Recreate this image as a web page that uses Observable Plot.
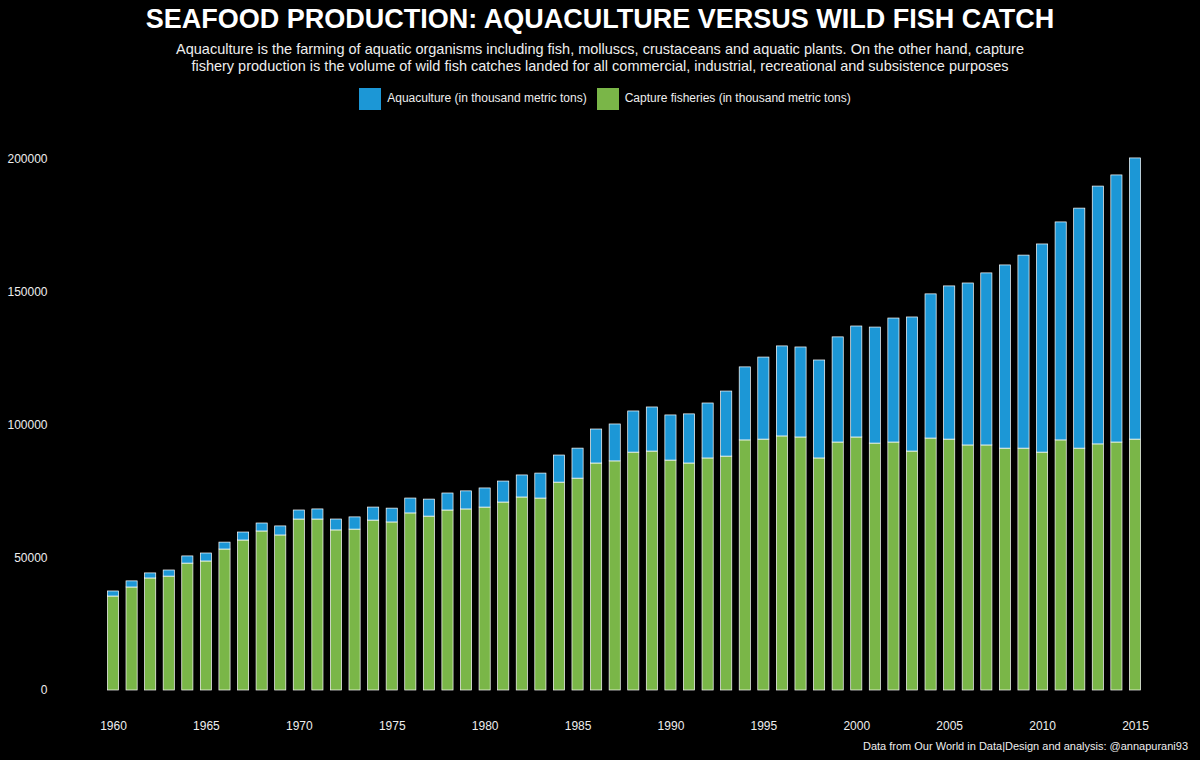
<!DOCTYPE html>
<html><head><meta charset="utf-8">
<script src="https://cdn.jsdelivr.net/npm/d3@7"></script>
<script src="https://cdn.jsdelivr.net/npm/@observablehq/plot@0.6"></script>
<style>
body{margin:0;background:#000;font-family:"Liberation Sans",Arial,sans-serif;color:#fff}
#wrap{position:relative;width:1200px;height:760px;background:#000}
h1{margin:0;position:absolute;top:4px;width:100%;text-align:center;font-size:27px;font-weight:bold}
#sub{position:absolute;top:41px;width:100%;text-align:center;font-size:14.5px;line-height:17px;color:#eee}
#legend{position:absolute;top:88px;width:100%;text-align:center;font-size:12px;color:#eee}
#legend span.k{display:inline-block;width:22px;height:22px;vertical-align:middle;margin:0 6px 0 10px}
#chart{position:absolute;top:130px;left:0}
#foot{position:absolute;top:740px;right:12px;font-size:11px;color:#eee}
</style></head>
<body><div id="wrap">
<h1>SEAFOOD PRODUCTION: AQUACULTURE VERSUS WILD FISH CATCH</h1>
<div id="sub">Aquaculture is the farming of aquatic organisms including fish, molluscs, crustaceans and aquatic plants. On the other hand, capture<br>fishery production is the volume of wild fish catches landed for all commercial, industrial, recreational and subsistence purposes</div>
<div id="legend"><span class="k" style="background:#1c97d6"></span>Aquaculture (in thousand metric tons)<span class="k" style="background:#7ab648;margin-left:10px"></span>Capture fisheries (in thousand metric tons)</div>
<div id="chart"></div>
<div id="foot">Data from Our World in Data|Design and analysis: @annapurani93</div>
</div>
<script>
const years = d3.range(1960, 2016);
// thousand metric tons (x1000 in chart units)
const capture = [35.4,38.8,42.2,42.9,47.8,48.6,53.1,56.5,59.9,58.4,64.4,64.4,60.3,60.6,64.0,63.3,66.7,65.5,67.8,68.2,68.9,70.8,72.7,72.3,78.3,79.8,85.5,86.3,89.6,90.0,86.6,85.5,87.4,88.1,94.2,94.5,95.7,95.3,87.4,93.4,95.3,93.0,93.4,90.0,94.9,94.5,92.3,92.3,91.1,91.1,89.6,94.2,91.1,92.7,93.4,94.5];
const aquaculture = [1.9,2.3,1.9,2.3,2.7,3.0,2.6,3.0,3.0,3.4,3.4,3.8,4.1,4.6,4.9,5.2,5.6,6.4,6.4,6.8,7.2,7.9,8.3,9.4,10.2,11.3,12.8,13.9,15.5,16.6,17.0,18.5,20.7,24.5,27.5,30.9,33.9,33.9,36.9,39.6,41.8,43.7,46.7,50.5,54.3,57.7,61.0,64.8,69.0,72.7,78.4,82.1,90.4,97.1,100.6,105.9];

const rows = [];
years.forEach((y, i) => rows.push({year: y, series: "Capture", value: capture[i] * 1000}));
years.forEach((y, i) => rows.push({year: y, series: "Aquaculture", value: aquaculture[i] * 1000}));

const chart = Plot.plot({
  width: 1200, height: 625,
  marginLeft: 100, marginRight: 52, marginTop: 29, marginBottom: 65,
  style: {background: "#000", color: "#eee", fontSize: "12px", fontFamily: "Liberation Sans, Arial, sans-serif"},
  x: {label: null, padding: 0.4, ticks: years.filter(d => d % 5 === 0), tickSize: 0, tickPadding: 31, tickFormat: d => String(d)},
  y: {label: null, domain: [0, 200000], ticks: [0, 50000, 100000, 150000, 200000], tickSize: 0, tickPadding: 53, tickFormat: d => String(d)},
  color: {domain: ["Capture", "Aquaculture"], range: ["#7ab648", "#1c97d6"]},
  marks: [
    Plot.barY(rows, {x: "year", y: "value", fill: "series", stroke: "#fff", strokeWidth: 0.7})
  ]
});
document.getElementById("chart").append(chart);
</script>
</body></html>
